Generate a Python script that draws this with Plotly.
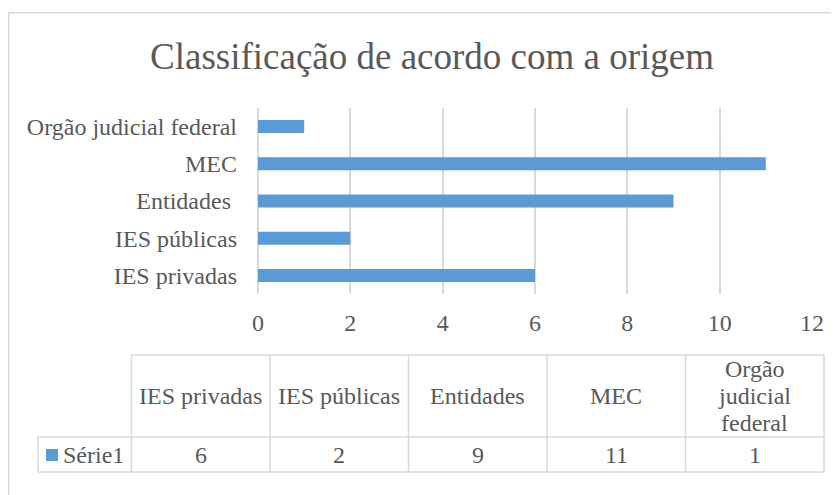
import plotly.graph_objects as go

# ---- data ----
categories = ["IES privadas", "IES públicas", "Entidades ", "MEC", "Orgão judicial federal"]
values = [6, 2, 9, 11, 1]
series_name = "Série1"
table_headers = ["IES privadas", "IES públicas", "Entidades", "MEC", "Orgão<br>judicial<br>federal"]
x_ticks = [0, 2, 4, 6, 8, 10, 12]
title_text = "Classificação de acordo com a origem"

# ---- layout constants (pixels of the 839x495 page; body has 8px margin) ----
OFF = 8
W, H = 839 - OFF, 495 - OFF
BLUE = "#5b9bd5"
GRID = "#d9d9d9"
TXT = "#595959"
FONT = "'Times New Roman', 'Liberation Serif', Tinos, 'DejaVu Serif', serif"
FS = 24


def px(x):
    return (x - OFF) / W


def py(y):
    return 1 - (y - OFF) / H


fig = go.Figure()
fig.add_trace(go.Bar(
    x=values, y=[c.replace(" ", "\u00a0") if c.endswith(" ") else c for c in categories],
    orientation="h", marker=dict(color=BLUE, line=dict(width=0)),
    width=0.35, name=series_name, showlegend=False, hoverinfo="x+y",
))

shapes = []
annotations = []

# outer chart border
shapes.append(dict(type="rect", xref="paper", yref="paper",
                   x0=px(8.75), x1=px(900), y0=py(12.75), y1=py(560),
                   line=dict(color=GRID, width=1.5), fillcolor="rgba(0,0,0,0)", layer="below"))

# data table
col_edges = [131.5, 270, 408.5, 547, 685.5, 824]
top, mid, bot = 355, 437, 472
left = 38
lw = 1.5
shapes.append(dict(type="line", xref="paper", yref="paper", x0=px(col_edges[0]), x1=px(col_edges[-1]),
                   y0=py(top), y1=py(top), line=dict(color=GRID, width=lw)))
for xe in col_edges:
    shapes.append(dict(type="line", xref="paper", yref="paper", x0=px(xe), x1=px(xe),
                       y0=py(top), y1=py(bot), line=dict(color=GRID, width=lw)))
for yy in (mid, bot):
    shapes.append(dict(type="line", xref="paper", yref="paper", x0=px(left), x1=px(col_edges[-1]),
                       y0=py(yy), y1=py(yy), line=dict(color=GRID, width=lw)))
shapes.append(dict(type="line", xref="paper", yref="paper", x0=px(left), x1=px(left),
                   y0=py(mid), y1=py(bot), line=dict(color=GRID, width=lw)))
# legend key
shapes.append(dict(type="rect", xref="paper", yref="paper", x0=px(46), x1=px(58),
                   y0=py(449), y1=py(461), line=dict(width=0), fillcolor=BLUE))
annotations.append(dict(text=series_name, xref="paper", yref="paper", x=px(61), y=py(455),
                        xanchor="left", yanchor="middle", showarrow=False,
                        font=dict(family=FONT, size=FS, color=TXT)))

LINE_H = 27
for i, (h, v) in enumerate(zip(table_headers, values)):
    cx = (col_edges[i] + col_edges[i + 1]) / 2
    lines = h.split("<br>")
    cy = (top + mid) / 2
    for j, ln in enumerate(lines):
        yy = cy + (j - (len(lines) - 1) / 2) * LINE_H
        annotations.append(dict(text=ln, xref="paper", yref="paper", x=px(cx), y=py(yy),
                                xanchor="center", yanchor="middle", showarrow=False,
                                font=dict(family=FONT, size=FS, color=TXT)))
    annotations.append(dict(text=str(v), xref="paper", yref="paper", x=px(cx), y=py((mid + bot) / 2),
                            xanchor="center", yanchor="middle", showarrow=False,
                            font=dict(family=FONT, size=FS, color=TXT)))

annotations.append(dict(text=title_text, xref="paper", yref="paper",
                        x=px(432), y=py(57), xanchor="center", yanchor="middle", showarrow=False,
                        font=dict(family=FONT, size=37, color=TXT)))

fig.update_layout(
    template="none",
    width=W, height=H,
    margin=dict(l=0, r=0, t=0, b=0, autoexpand=False),
    paper_bgcolor="white", plot_bgcolor="white",
    font=dict(family=FONT, color=TXT, size=FS),
    showlegend=False,
    shapes=shapes, annotations=annotations,
    xaxis=dict(domain=[px(258), px(812)], range=[0, 12], tickvals=x_ticks,
               showgrid=True, gridcolor=GRID, gridwidth=1.5,
               zeroline=True, zerolinecolor=GRID, zerolinewidth=1.5,
               showline=False, ticks="", ticklabelstandoff=12, automargin=False,
               tickfont=dict(family=FONT, size=FS, color=TXT), fixedrange=True),
    yaxis=dict(domain=[py(294), py(108)], type="category",
               showgrid=False, showline=False, zeroline=False, ticks="",
               ticklabelstandoff=20, automargin=False,
               tickfont=dict(family=FONT, size=FS, color=TXT), fixedrange=True),
)

fig.write_html("out.html")
